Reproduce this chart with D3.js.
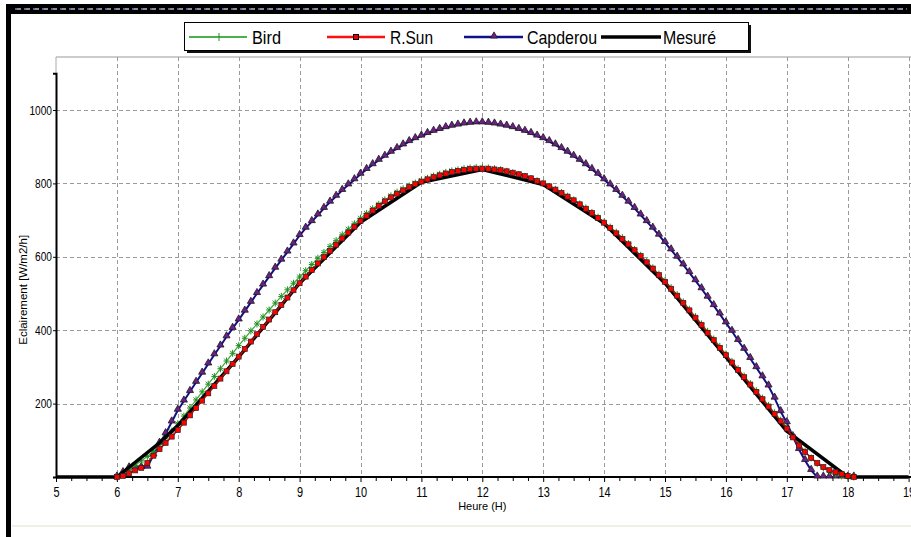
<!DOCTYPE html>
<html>
<head>
<meta charset="utf-8">
<script src="https://d3js.org/d3.v7.min.js"></script>
<style>
  body { margin: 0; background: #fff; }
  svg text { font-family: "Liberation Sans", Arial, sans-serif; fill: #000; }
</style>
</head>
<body>
<div id="chart"></div>
<script>
// model series are sampled every 0.1 h from 6.0 h to 18.1 h
var t0 = 6, dt = 0.1;

var bird = [
  0, 8, 20, 32, 44, 56, 70, 88, 106, 125,
  145, 166, 188, 210, 232, 253, 274, 295, 316, 337,
  358, 378, 398, 417, 436, 455, 474, 492, 510, 528,
  545, 562, 579, 596, 612, 628, 644, 660, 675, 690,
  705, 718, 731, 743, 755, 766, 776, 785, 793, 801,
  808, 814, 820, 825, 830, 834, 837, 840, 842, 843,
  843, 842, 840, 837, 833, 829, 824, 819, 813, 807,
  800, 792, 784, 775, 765, 755, 744, 733, 721, 708,
  695, 681, 667, 652, 636, 620, 604, 587, 570, 553,
  535, 516, 497, 477, 457, 437, 417, 397, 376, 356,
  335, 315, 295, 275, 255, 235, 215, 195, 175, 155,
  135, 112, 90, 70, 52, 37, 25, 15, 8, 3,
  0, 0];

var rsun = [
  0, 3, 10, 18, 25, 38, 58, 76, 93, 110,
  128, 148, 168, 188, 208, 228, 248, 268, 288, 308,
  328, 349, 369, 389, 409, 429, 449, 469, 489, 509,
  528, 546, 564, 582, 599, 616, 633, 650, 666, 682,
  698, 712, 726, 739, 751, 762, 772, 781, 790, 798,
  805, 811, 817, 822, 827, 831, 834, 837, 839, 840,
  840, 840, 838, 836, 833, 829, 825, 820, 814, 807,
  800, 792, 783, 774, 764, 754, 743, 731, 719, 706,
  693, 679, 664, 649, 634, 618, 602, 585, 568, 550,
  532, 513, 494, 474, 454, 434, 414, 393, 373, 352,
  332, 312, 292, 272, 252, 232, 212, 192, 172, 152,
  132, 108, 86, 68, 52, 38, 27, 19, 13, 8,
  3, 0];

var capderou = [
  0, 12, 25, 26, 26, 27, 60, 92, 118, 150,
  182, 207, 233, 258, 283, 308, 333, 357, 382, 405,
  428, 452, 476, 500, 523, 546, 569, 591, 613, 635,
  658, 678, 696, 714, 732, 749, 765, 781, 796, 810,
  825, 838, 851, 863, 874, 885, 895, 905, 914, 922,
  929, 936, 942, 947, 952, 956, 959, 962, 964, 965,
  965, 964, 962, 959, 956, 952, 947, 942, 936, 929,
  922, 914, 905, 895, 885, 874, 863, 851, 838, 825,
  810, 796, 781, 765, 749, 732, 714, 696, 678, 659,
  639, 619, 599, 578, 557, 535, 513, 490, 467, 444,
  420, 397, 372, 348, 323, 298, 273, 248, 215, 178,
  148, 110, 75, 45, 18, 0, 0, 0, 0, 0,
  0, 0];

// measured values (polyline)
var mesHours = [5, 6, 6.7, 7, 8, 9, 10, 11, 12, 13, 14, 15, 16, 17, 18, 19];
var mesure   = [0, 0, 93, 140, 327, 528, 694, 803, 838, 797, 691, 528, 327, 125, 0, 0];

var xTicks = [5, 6, 7, 8, 9, 10, 11, 12, 13, 14, 15, 16, 17, 18, 19];
var yTicks = [200, 400, 600, 800, 1000];
var legendNames = ["Bird", "R.Sun", "Capderou", "Mesuré"];

var W = 911, H = 537;
var svg = d3.select("#chart").append("svg")
    .attr("width", W)
    .attr("height", H);

var x = d3.scaleLinear().domain([5, 19]).range([56, 908.6]);
var y = d3.scaleLinear().domain([0, 1100]).range([477, 73.3]);
var plotTop = 57, plotRight = W;

function toPts(vals) {
  return vals.map(function(v, i){ return {h: t0 + i * dt, v: v}; });
}

// window frame
svg.append("rect").attr("x", 6).attr("y", 4).attr("width", W - 6).attr("height", 10).attr("fill", "#000");
svg.append("line").attr("x1", 15).attr("x2", W - 4).attr("y1", 9).attr("y2", 9)
    .attr("stroke", "#8a8a8a").attr("stroke-width", 2).attr("stroke-dasharray", "6,3");
svg.append("line").attr("x1", 15).attr("x2", W - 4).attr("y1", 9).attr("y2", 9)
    .attr("stroke", "#2233cc").attr("stroke-width", 1).attr("stroke-dasharray", "2,7");
svg.append("rect").attr("x", 6).attr("y", 4).attr("width", 5).attr("height", H - 4).attr("fill", "#000");
svg.append("line").attr("x1", 12).attr("x2", W).attr("y1", 526).attr("y2", 526)
    .attr("stroke", "#f0efe4").attr("stroke-width", 2);

// plot frame top
svg.append("line").attr("x1", x(5)).attr("x2", plotRight).attr("y1", plotTop).attr("y2", plotTop)
    .attr("stroke", "#999").attr("stroke-width", 1);
svg.append("line").attr("x1", x(5)).attr("x2", x(5)).attr("y1", plotTop).attr("y2", y(1100))
    .attr("stroke", "#aaa").attr("stroke-width", 1);

// grid
var grid = svg.append("g").attr("stroke", "#9a9a9a").attr("stroke-width", 1).attr("stroke-dasharray", "4,3");
grid.selectAll(".hg").data(yTicks).enter().append("line")
    .attr("x1", x(5)).attr("x2", plotRight)
    .attr("y1", function(d){ return Math.round(y(d)) + 0.5; })
    .attr("y2", function(d){ return Math.round(y(d)) + 0.5; });
grid.selectAll(".vg").data(xTicks.slice(1)).enter().append("line")
    .attr("x1", function(d){ return Math.round(x(d)) + 0.5; })
    .attr("x2", function(d){ return Math.round(x(d)) + 0.5; })
    .attr("y1", plotTop).attr("y2", y(0));

// axes
var minor = [];
xTicks.forEach(function(h){ [0.25, 0.5, 0.75].forEach(function(q){ if (h + q < 19) minor.push(h + q); }); });

var xAxis = svg.append("g").attr("transform", "translate(0," + y(0) + ")")
    .call(d3.axisBottom(x).tickValues(xTicks).tickSize(5).tickPadding(5).tickFormat(d3.format("d")));
xAxis.select(".domain").remove();
xAxis.selectAll("text").style("font-size", "14px");
svg.append("g").attr("transform", "translate(0," + y(0) + ")")
    .call(d3.axisBottom(x).tickValues(minor).tickSize(4).tickFormat(""))
    .select(".domain").remove();

var yAxis = svg.append("g").attr("transform", "translate(" + x(5) + ",0)")
    .call(d3.axisLeft(y).tickValues(yTicks).tickSize(3).tickPadding(1).tickFormat(d3.format("d")));
yAxis.select(".domain").attr("stroke-width", 2);
yAxis.selectAll("text").style("font-size", "13px");

// condensed look for tick labels
svg.selectAll(".tick text").each(function(){
  var w = this.getComputedTextLength();
  if (w > 0) d3.select(this).attr("textLength", w * 0.78).attr("lengthAdjust", "spacingAndGlyphs");
});

// x axis line
svg.append("line").attr("x1", x(5)).attr("x2", W).attr("y1", y(0)).attr("y2", y(0))
    .attr("stroke", "#000").attr("stroke-width", 2);

// axis titles
svg.append("text").attr("x", x(12)).attr("y", 510).attr("text-anchor", "middle")
    .style("font-size", "11px").text("Heure (H)");
svg.append("text").attr("transform", "translate(27," + y(510) + ") rotate(-90)")
    .attr("text-anchor", "middle").style("font-size", "11.5px").text("Eclairement [W/m2/h]");

// series
var line = d3.line().x(function(d){ return x(d.h); }).y(function(d){ return y(d.v); });

var birdPts = toPts(bird), rsunPts = toPts(rsun), capPts = toPts(capderou);
var mesPts = mesHours.map(function(h, i){ return {h: h, v: mesure[i]}; });

var crossPath = "M-3,0H3M0,-3.5V3.5M-2.5,-2.5L2.5,2.5";
var triPath = d3.symbol().type(d3.symbolTriangle).size(22)();

// Capderou
svg.append("path").attr("d", line(capPts)).attr("fill", "none")
    .attr("stroke", "#10108a").attr("stroke-width", 2);
svg.append("g").selectAll("path").data(capPts).enter().append("path")
    .attr("d", triPath)
    .attr("transform", function(d){ return "translate(" + x(d.h) + "," + (y(d.v) - 1) + ")"; })
    .attr("fill", "#6e1f86").attr("stroke", "#1a1a1a").attr("stroke-width", 0.8);

// Bird
svg.append("path").attr("d", line(birdPts)).attr("fill", "none")
    .attr("stroke", "#3aa63a").attr("stroke-width", 1.2);
svg.append("g").selectAll("path").data(birdPts).enter().append("path")
    .attr("d", crossPath)
    .attr("transform", function(d){ return "translate(" + x(d.h) + "," + y(d.v) + ")"; })
    .attr("fill", "none").attr("stroke", "#1f8f1f").attr("stroke-width", 1);

// Mesuré
svg.append("path").attr("d", line(mesPts)).attr("fill", "none")
    .attr("stroke", "#000").attr("stroke-width", 3.5).attr("stroke-linejoin", "round");

// R.Sun
svg.append("path").attr("d", line(rsunPts)).attr("fill", "none")
    .attr("stroke", "#e00000").attr("stroke-width", 1.5);
svg.append("g").selectAll("rect").data(rsunPts).enter().append("rect")
    .attr("x", function(d){ return x(d.h) - 2.5; })
    .attr("y", function(d){ return y(d.v) - 2.5; })
    .attr("width", 5).attr("height", 5)
    .attr("fill", "#ff0000").attr("stroke", "#222").attr("stroke-width", 0.7);

// legend
var lg = svg.append("g");
lg.append("rect").attr("x", 187).attr("y", 25).attr("width", 564).attr("height", 28).attr("fill", "#111");
lg.append("rect").attr("x", 184.5).attr("y", 22.5).attr("width", 564).attr("height", 28)
    .attr("fill", "#fff").attr("stroke", "#000").attr("stroke-width", 1);

var ly = 37;
lg.append("line").attr("x1", 189).attr("x2", 247).attr("y1", ly).attr("y2", ly).attr("stroke", "#4cb04c").attr("stroke-width", 2);
lg.append("line").attr("x1", 219).attr("x2", 219).attr("y1", ly - 4).attr("y2", ly + 4).attr("stroke", "#2a8a2a").attr("stroke-width", 1);
lg.append("line").attr("x1", 327).attr("x2", 385).attr("y1", ly).attr("y2", ly).attr("stroke", "#ff1010").attr("stroke-width", 2.5);
lg.append("rect").attr("x", 353.5).attr("y", ly - 2.5).attr("width", 5).attr("height", 5).attr("fill", "#e00").attr("stroke", "#000").attr("stroke-width", 1);
lg.append("line").attr("x1", 464).attr("x2", 523).attr("y1", ly).attr("y2", ly).attr("stroke", "#10108a").attr("stroke-width", 2.5);
lg.append("path").attr("d", triPath).attr("transform", "translate(494," + (ly - 1) + ")").attr("fill", "#6e1f86").attr("stroke", "#1a1a1a").attr("stroke-width", 0.8);
lg.append("line").attr("x1", 601).attr("x2", 661).attr("y1", ly).attr("y2", ly).attr("stroke", "#000").attr("stroke-width", 3.5);

var lx = [252, 390, 527, 663], lw = [29, 43, 70, 53];
lg.selectAll("text").data(legendNames).enter().append("text")
    .attr("x", function(d, i){ return lx[i]; })
    .attr("y", 44)
    .attr("textLength", function(d, i){ return lw[i]; })
    .attr("lengthAdjust", "spacingAndGlyphs")
    .style("font-size", "19px")
    .text(function(d){ return d; });
</script>
</body>
</html>
